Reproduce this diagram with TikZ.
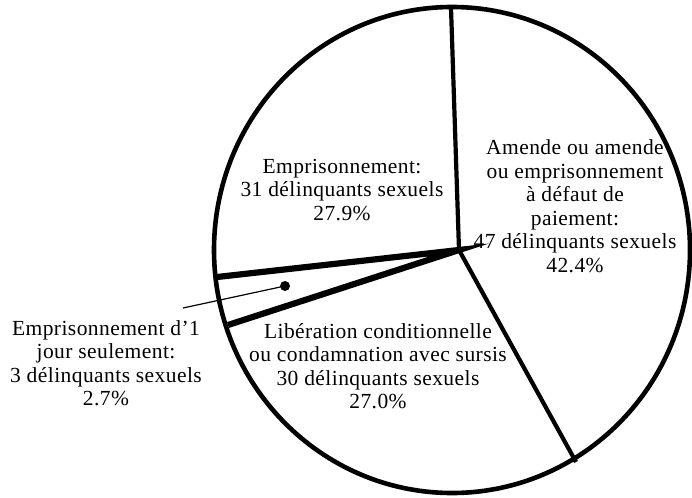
\documentclass[tikz,border=0pt]{standalone}
\usepackage{fontspec}
\setmainfont{Liberation Serif}[LetterSpace=2]
\begin{document}
\begin{tikzpicture}[x=1pt,y=-1pt,
  rim/.style={line width=4.6pt},
  spoke/.style={line width=4.2pt},
  thickspoke/.style={line width=6.2pt, line join=miter},
  lbl/.style={align=center, inner sep=0pt, font=\fontsize{21.5}{23.5}\selectfont},
  leader/.style={line width=1.2pt}]
\useasboundingbox (0,0) rectangle (692,497);
\coordinate (C) at (459,250);
\coordinate (T) at (451,8);
\coordinate (BR) at (576,462);
\coordinate (UL) at (217,277);
\coordinate (LL) at (228,325);
\coordinate (L) at (183,308);
\draw[rim] (452,250) ellipse [x radius=238pt, y radius=243pt];
\draw[spoke] (T) -- (C) -- (BR);
\draw[thickspoke] (UL) -- (C) -- (LL);
\fill (285,286) circle [radius=5pt] coordinate (D);
\draw[leader] (L) -- (D);
\node[lbl] (e1) at (342,190) {Emprisonnement:\\31 délinquants sexuels\\27.9\%};
\node[lbl] (e2) at (575,206) {Amende ou amende\\ou emprisonnement\\à défaut de\\paiement:\\47 délinquants sexuels\\42.4\%};
\node[lbl] (e3) at (378,366) {Libération conditionnelle\\ou condamnation avec sursis\\30 délinquants sexuels\\27.0\%};
\node[lbl] (e4) at (106,363) {Emprisonnement d’1\\jour seulement:\\3 délinquants sexuels\\2.7\%};
\end{tikzpicture}
\end{document}
